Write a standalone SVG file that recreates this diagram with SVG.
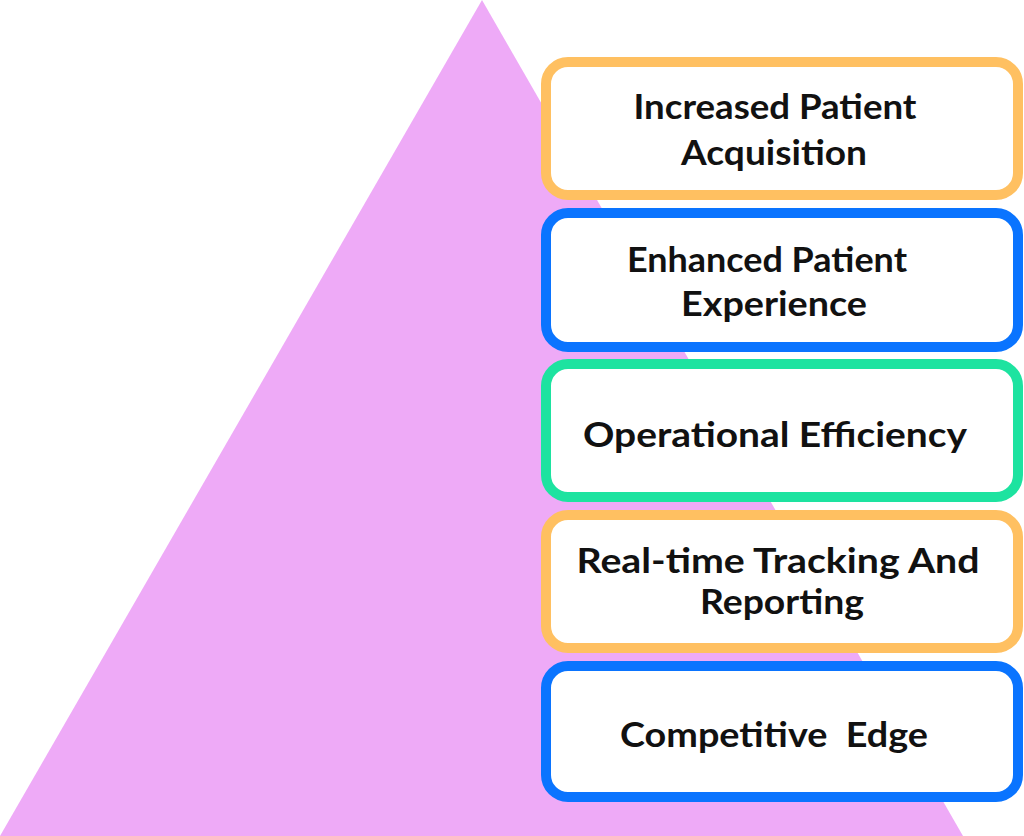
<svg xmlns="http://www.w3.org/2000/svg" width="1024" height="836" viewBox="0 0 1024 836">
<style>
.box{fill:#ffffff;stroke-width:10}
.o{stroke:#FFC061}
.b{stroke:#0A74FF}
.g{stroke:#1DE3A0}
text{font-family:"Lato","Liberation Sans",sans-serif;font-weight:700;font-size:35px;fill:#111111;text-anchor:middle}
</style>
<rect width="1024" height="836" fill="#ffffff"/>
<g id="pyramid"><polygon points="482,0 963,836 0,836" fill="#EEAAF7"/></g>
<g id="connectors"></g>
<g id="node1">
<rect class="box o" x="546" y="62" width="472" height="133" rx="22"/>
<text x="775" y="119" textLength="283" lengthAdjust="spacingAndGlyphs">Increased Patient</text>
<text x="774" y="165" textLength="186" lengthAdjust="spacingAndGlyphs">Acquisition</text>
</g>
<g id="node2">
<rect class="box b" x="546" y="213" width="472" height="134" rx="22"/>
<text x="767" y="272" textLength="280" lengthAdjust="spacingAndGlyphs">Enhanced Patient</text>
<text x="774" y="316" textLength="186" lengthAdjust="spacingAndGlyphs">Experience</text>
</g>
<g id="node3">
<rect class="box g" x="546" y="364" width="472" height="133" rx="22"/>
<text x="775" y="447" textLength="384" lengthAdjust="spacingAndGlyphs">Operational Efficiency</text>
</g>
<g id="node4">
<rect class="box o" x="546" y="515" width="472" height="133" rx="22"/>
<text x="778" y="573" textLength="403" lengthAdjust="spacingAndGlyphs">Real-time Tracking And</text>
<text x="782" y="614" textLength="164" lengthAdjust="spacingAndGlyphs">Reporting</text>
</g>
<g id="node5">
<rect class="box b" x="546" y="666" width="472" height="131" rx="22"/>
<text x="774" y="747" textLength="308" lengthAdjust="spacingAndGlyphs" xml:space="preserve">Competitive  Edge</text>
</g>
</svg>
